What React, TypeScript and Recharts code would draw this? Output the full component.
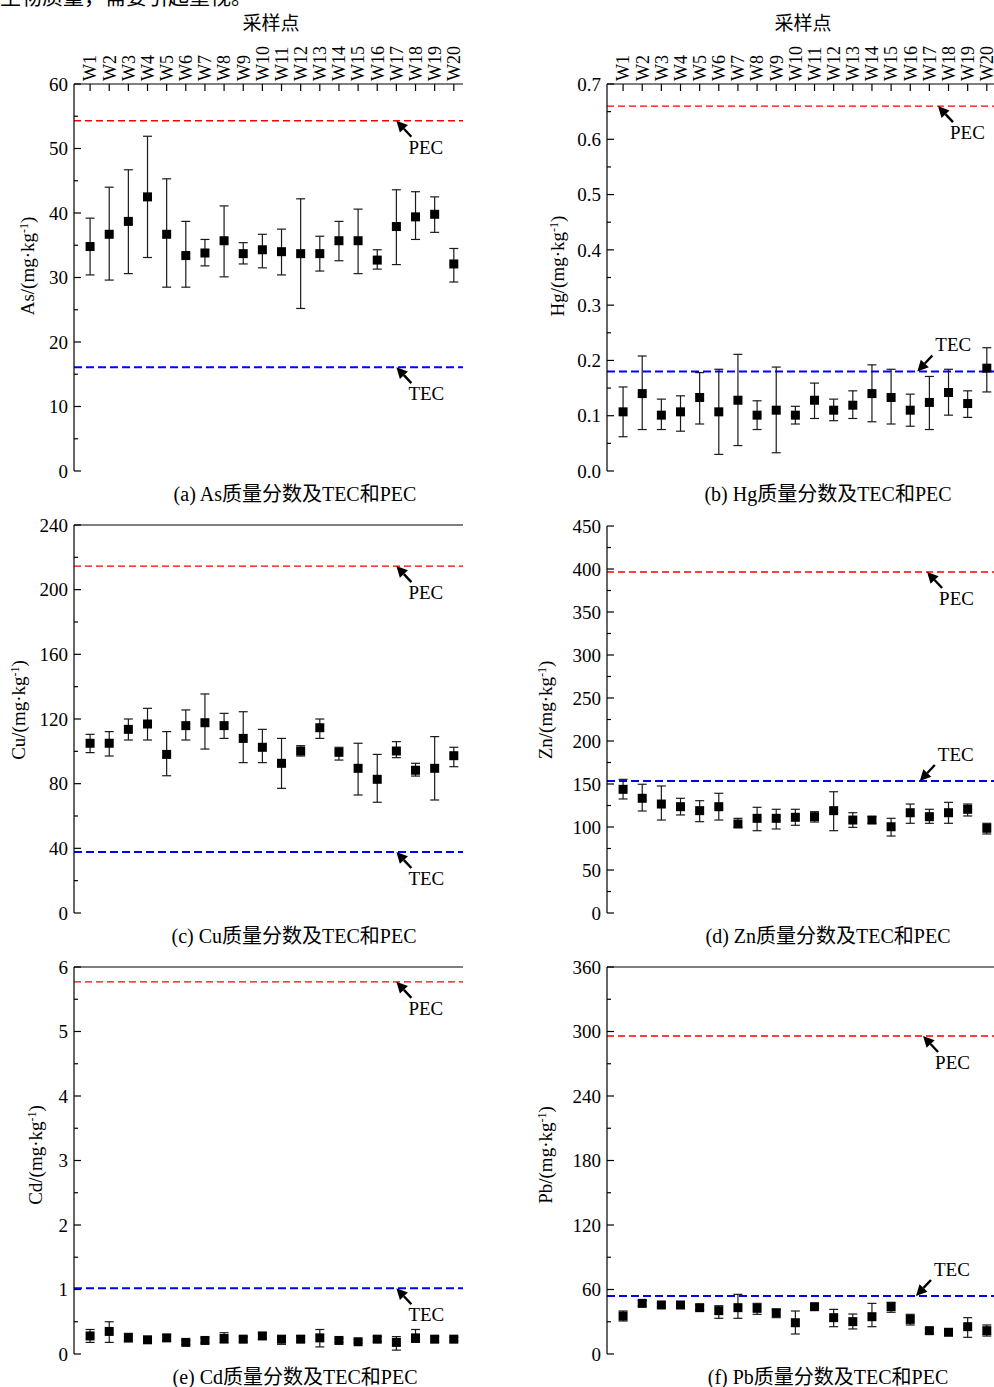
import React from "react";
import {
  ScatterChart,
  Scatter,
  XAxis,
  YAxis,
  ErrorBar,
  ReferenceLine,
  ReferenceDot,
} from "recharts";

const FONT = "'Liberation Serif', 'Noto Sans CJK SC', serif";

// sampling sites
const sites = [
  "W1", "W2", "W3", "W4", "W5", "W6", "W7", "W8", "W9", "W10",
  "W11", "W12", "W13", "W14", "W15", "W16", "W17", "W18", "W19", "W20",
];

// As (mg/kg): mean, lower and upper end of the bar
const asMean = [34.8, 36.7, 38.7, 42.5, 36.7, 33.4, 33.8, 35.7, 33.7, 34.3, 34.0, 33.7, 33.7, 35.7, 35.7, 32.7, 37.9, 39.4, 39.8, 32.1];
const asLow = [30.4, 29.6, 30.6, 33.1, 28.5, 28.5, 31.8, 30.1, 32.1, 31.5, 30.4, 25.2, 31.0, 32.6, 30.6, 31.3, 32.0, 35.9, 37.0, 29.3];
const asHigh = [39.2, 44.0, 46.7, 51.9, 45.3, 38.7, 35.9, 41.1, 35.4, 36.7, 37.5, 42.2, 36.4, 38.7, 40.6, 34.3, 43.6, 43.3, 42.5, 34.5];

// Hg
const hgMean = [0.107, 0.140, 0.101, 0.107, 0.133, 0.107, 0.128, 0.101, 0.110, 0.101, 0.128, 0.110, 0.119, 0.140, 0.133, 0.110, 0.124, 0.142, 0.122, 0.186];
const hgLow = [0.062, 0.075, 0.075, 0.072, 0.085, 0.030, 0.046, 0.075, 0.033, 0.085, 0.095, 0.091, 0.095, 0.089, 0.085, 0.081, 0.075, 0.101, 0.097, 0.143];
const hgHigh = [0.152, 0.208, 0.130, 0.136, 0.178, 0.184, 0.211, 0.127, 0.188, 0.117, 0.159, 0.130, 0.145, 0.192, 0.184, 0.139, 0.171, 0.184, 0.145, 0.223];

// Cu
const cuMean = [105.0, 105.0, 113.6, 116.9, 98.1, 115.9, 117.7, 115.9, 108.0, 102.5, 92.6, 100.2, 114.6, 99.4, 89.5, 82.7, 100.2, 88.3, 89.5, 97.3];
const cuLow = [99.2, 97.1, 107.0, 107.0, 84.9, 107.0, 101.4, 108.0, 93.0, 93.0, 77.1, 97.1, 108.0, 94.6, 73.0, 68.5, 96.1, 84.7, 69.9, 90.5];
const cuHigh = [110.5, 112.2, 120.0, 126.6, 112.2, 125.6, 135.5, 123.5, 124.5, 113.6, 108.0, 103.5, 120.0, 102.5, 105.0, 98.1, 106.0, 92.6, 109.1, 102.5];

// Zn
const znMean = [143.8, 133.4, 126.7, 123.6, 119.0, 123.6, 103.5, 110.1, 110.1, 111.3, 112.0, 119.0, 108.1, 108.1, 100.3, 116.6, 112.0, 116.6, 120.6, 98.5];
const znLow = [132.6, 118.6, 108.1, 114.0, 106.2, 108.1, 99.6, 95.7, 97.7, 102.0, 105.8, 95.7, 99.6, 104.3, 89.5, 104.3, 104.3, 104.3, 112.8, 91.9];
const znHigh = [155.4, 149.7, 147.7, 133.4, 130.6, 139.2, 110.1, 122.9, 120.6, 120.6, 117.8, 141.0, 116.6, 112.0, 110.1, 126.7, 120.6, 128.7, 126.7, 104.3];

// Cd
const cdMean = [0.28, 0.35, 0.25, 0.22, 0.25, 0.18, 0.21, 0.24, 0.23, 0.28, 0.23, 0.23, 0.25, 0.21, 0.19, 0.23, 0.18, 0.25, 0.23, 0.23];
const cdLow = [0.18, 0.18, 0.19, 0.17, 0.20, 0.15, 0.17, 0.17, 0.19, 0.23, 0.15, 0.19, 0.11, 0.18, 0.17, 0.19, 0.06, 0.18, 0.19, 0.20];
const cdHigh = [0.38, 0.50, 0.32, 0.25, 0.30, 0.21, 0.25, 0.33, 0.27, 0.33, 0.28, 0.28, 0.38, 0.24, 0.22, 0.27, 0.27, 0.38, 0.27, 0.26];

// Pb
const pbMean = [35.3, 47.1, 45.6, 45.6, 43.1, 40.3, 43.1, 42.5, 38.4, 29.1, 44.0, 33.8, 30.1, 34.7, 44.0, 32.2, 21.7, 20.2, 25.4, 21.7];
const pbLow = [30.7, 44.7, 43.4, 43.4, 40.9, 33.2, 33.2, 36.9, 33.8, 18.6, 41.5, 25.4, 23.3, 25.4, 38.8, 27.0, 19.2, 17.7, 15.5, 16.7];
const pbHigh = [40.0, 49.6, 47.7, 47.7, 45.6, 44.9, 55.5, 47.1, 41.5, 40.0, 46.5, 41.5, 37.2, 47.1, 48.1, 36.9, 23.8, 22.3, 33.8, 27.0];

// guideline values: TEC / PEC
const asLimits = [16.1, 54.3];
const hgLimits = [0.18, 0.66];
const cuLimits = [37.7, 214.6];
const znLimits = [153.5, 396.5];
const cdLimits = [1.02, 5.77];
const pbLimits = [54.0, 295.8];

// y axis major ticks
const asTicks = [0, 10, 20, 30, 40, 50, 60];
const hgTicks = [0, 0.1, 0.2, 0.3, 0.4, 0.5, 0.6, 0.7];
const cuTicks = [0, 40, 80, 120, 160, 200, 240];
const znTicks = [0, 50, 100, 150, 200, 250, 300, 350, 400, 450];
const cdTicks = [0, 1, 2, 3, 4, 5, 6];
const pbTicks = [0, 60, 120, 180, 240, 300, 360];

const siteTicks = sites.map((_, i) => i + 1);

type Row = { x: number; y: number; err: [number, number] };

function buildRows(mean: number[], low: number[], high: number[]): Row[] {
  return mean.map((m, i) => ({ x: i + 1, y: m, err: [m - low[i], high[i] - m] }));
}

// majors plus the halfway minor ticks
function withMinors(major: number[]) {
  const out: number[] = [];
  major.forEach((v, i) => {
    out.push(v);
    if (i < major.length - 1) out.push(Math.round(((v + major[i + 1]) / 2) * 1e6) / 1e6);
  });
  return out;
}

const SquareMark = (props: any) => {
  const { cx, cy } = props;
  if (cx == null || cy == null) return null;
  return <rect x={cx - 4.5} y={cy - 4.5} width={9} height={9} fill="#000" />;
};

const SiteTick = (props: any) => {
  const { x, y, payload } = props;
  return (
    <g>
      <line x1={x} y1={y} x2={x} y2={y + 7} stroke="#000" strokeWidth={1.2} />
      <text
        transform={`translate(${x},${y - 3}) rotate(-90)`}
        textAnchor="start"
        dy="0.35em"
        fontSize={18}
        fontFamily={FONT}
        fill="#000"
      >
        {sites[payload.value - 1]}
      </text>
    </g>
  );
};

function makeValueTick(major: number[], digits: number) {
  return (props: any) => {
    const { x, y, payload } = props;
    const v = payload.value;
    const isMajor = major.some((m) => Math.abs(m - v) < 1e-9);
    return (
      <g>
        <line x1={x} y1={y} x2={x + (isMajor ? 7 : 4)} y2={y} stroke="#000" strokeWidth={1.2} />
        {isMajor && (
          <text x={x - 6} y={y} dy="0.35em" textAnchor="end" fontSize={19} fontFamily={FONT} fill="#000">
            {v.toFixed(digits)}
          </text>
        )}
      </g>
    );
  };
}

// arrow pointing at a guideline, with its name next to the tail
function Pointer({ cx, cy, text, side }: { cx: number; cy: number; text: string; side: "below" | "above" }) {
  const dx = 15;
  const dy = side === "below" ? 16 : -16;
  const len = Math.hypot(dx, dy);
  const ux = dx / len;
  const uy = dy / len;
  const bx = cx + ux * 11;
  const by = cy + uy * 11;
  const px = -uy * 5.5;
  const py = ux * 5.5;
  return (
    <g>
      <line x1={bx} y1={by} x2={cx + dx} y2={cy + dy} stroke="#000" strokeWidth={2.4} />
      <polygon points={`${cx},${cy} ${bx + px},${by + py} ${bx - px},${by - py}`} fill="#000" />
      <text
        x={side === "below" ? cx + 12 : cx + 18}
        y={side === "below" ? cy + 33 : cy - 20}
        fontSize={19}
        fontFamily={FONT}
        fill="#000"
      >
        {text}
      </text>
    </g>
  );
}

type Panel = {
  rows: Row[];
  ticks: number[];
  digits: number;
  limits: number[];
  plot: [number, number, number, number];
  topSites: boolean;
  topLine: boolean;
  pecAt: number;
  tecAt: number;
  tecSide: "below" | "above";
};

function ElementChart({ p }: { p: Panel }) {
  const [x0, y0, x1, y1] = p.plot;
  const xh = p.topSites ? 60 : 0;
  const width = x1 - x0 + 80;
  const height = y1 - y0 + 80;
  const yMax = p.ticks[p.ticks.length - 1];
  return (
    <div style={{ position: "absolute", left: x0 - 60, top: y0 - 70 }}>
      <ScatterChart
        width={width}
        height={height}
        margin={{ top: 70 - xh, right: 20, bottom: 10, left: 0 }}
      >
        <XAxis
          type="number"
          dataKey="x"
          domain={[0.16, 20.48]}
          ticks={siteTicks}
          interval={0}
          orientation="top"
          height={xh}
          hide={!p.topSites}
          axisLine={{ stroke: "#000", strokeWidth: 1.2 }}
          tickLine={false}
          tickSize={0}
          tickMargin={0}
          tick={SiteTick}
        />
        <YAxis
          type="number"
          dataKey="y"
          domain={[0, yMax]}
          ticks={withMinors(p.ticks)}
          interval={0}
          width={60}
          axisLine={{ stroke: "#000", strokeWidth: 1.2 }}
          tickLine={false}
          tickSize={0}
          tickMargin={0}
          tick={makeValueTick(p.ticks, p.digits)}
        />
        {p.topLine && <ReferenceLine y={yMax} stroke="#000" strokeWidth={1.2} />}
        <ReferenceLine y={p.limits[1]} stroke="#ff0000" strokeWidth={1.3} strokeDasharray="7 4" />
        <ReferenceLine y={p.limits[0]} stroke="#0000ff" strokeWidth={2} strokeDasharray="8 4" />
        <Scatter data={p.rows} shape={SquareMark} isAnimationActive={false}>
          <ErrorBar dataKey="err" direction="y" width={4.5} stroke="#1a1a1a" strokeWidth={1.2} />
        </Scatter>
        <ReferenceDot
          x={p.pecAt}
          y={p.limits[1]}
          r={0}
          shape={(s: any) => <Pointer cx={s.cx} cy={s.cy} text="PEC" side="below" />}
        />
        <ReferenceDot
          x={p.tecAt}
          y={p.limits[0]}
          r={0}
          shape={(s: any) => <Pointer cx={s.cx} cy={s.cy} text="TEC" side={p.tecSide} />}
        />
      </ScatterChart>
    </div>
  );
}

const panels: Panel[] = [
  { rows: buildRows(asMean, asLow, asHigh), ticks: asTicks, digits: 0, limits: asLimits, plot: [74, 84, 463, 471], topSites: true, topLine: false, pecAt: 17, tecAt: 17, tecSide: "below" },
  { rows: buildRows(hgMean, hgLow, hgHigh), ticks: hgTicks, digits: 1, limits: hgLimits, plot: [607, 84, 996, 471], topSites: true, topLine: false, pecAt: 17.45, tecAt: 16.37, tecSide: "above" },
  { rows: buildRows(cuMean, cuLow, cuHigh), ticks: cuTicks, digits: 0, limits: cuLimits, plot: [74, 525, 463, 913], topSites: false, topLine: true, pecAt: 17, tecAt: 17, tecSide: "below" },
  { rows: buildRows(znMean, znLow, znHigh), ticks: znTicks, digits: 0, limits: znLimits, plot: [607, 526, 996, 913], topSites: false, topLine: false, pecAt: 16.88, tecAt: 16.5, tecSide: "above" },
  { rows: buildRows(cdMean, cdLow, cdHigh), ticks: cdTicks, digits: 0, limits: cdLimits, plot: [74, 967, 463, 1354], topSites: false, topLine: true, pecAt: 17, tecAt: 17, tecSide: "below" },
  { rows: buildRows(pbMean, pbLow, pbHigh), ticks: pbTicks, digits: 0, limits: pbLimits, plot: [607, 967, 996, 1354], topSites: false, topLine: true, pecAt: 16.67, tecAt: 16.3, tecSide: "above" },
];

const captions = [
  { text: "(a) As质量分数及TEC和PEC", x: 295, y: 494 },
  { text: "(b) Hg质量分数及TEC和PEC", x: 828, y: 494 },
  { text: "(c) Cu质量分数及TEC和PEC", x: 294, y: 936 },
  { text: "(d) Zn质量分数及TEC和PEC", x: 828, y: 936 },
  { text: "(e) Cd质量分数及TEC和PEC", x: 295, y: 1377 },
  { text: "(f) Pb质量分数及TEC和PEC", x: 828, y: 1377 },
];

const yTitles = [
  { el: "As", x: 27, y: 266 },
  { el: "Hg", x: 557, y: 266 },
  { el: "Cu", x: 18, y: 710 },
  { el: "Zn", x: 545, y: 710 },
  { el: "Cd", x: 35, y: 1155 },
  { el: "Pb", x: 545, y: 1155 },
];

const centered: React.CSSProperties = {
  position: "absolute",
  transform: "translate(-50%, -50%)",
  whiteSpace: "nowrap",
  lineHeight: 1,
  fontFamily: FONT,
  fontSize: 19,
  color: "#000",
};

export default function App() {
  return (
    <div
      style={{
        position: "absolute",
        left: 0,
        top: 0,
        width: 994,
        height: 1387,
        overflow: "hidden",
        background: "#fff",
      }}
    >
      <div style={{ position: "absolute", left: 0, top: -13, fontFamily: FONT, fontSize: 21, lineHeight: 1, whiteSpace: "nowrap" }}>
        生物质量，需要引起重视。
      </div>
      {panels.map((p, i) => (
        <ElementChart key={i} p={p} />
      ))}
      <div style={{ ...centered, left: 271, top: 23 }}>采样点</div>
      <div style={{ ...centered, left: 803, top: 23 }}>采样点</div>
      {captions.map((c) => (
        <div key={c.text} style={{ ...centered, left: c.x, top: c.y, fontSize: 20 }}>
          {c.text}
        </div>
      ))}
      {yTitles.map((t) => (
        <div
          key={t.el}
          style={{ ...centered, left: t.x, top: t.y, transform: "translate(-50%, -50%) rotate(-90deg)" }}
        >
          {t.el}/(mg·kg<sup style={{ fontSize: 12, verticalAlign: "6px", lineHeight: 0 }}>-1</sup>)
        </div>
      ))}
    </div>
  );
}
